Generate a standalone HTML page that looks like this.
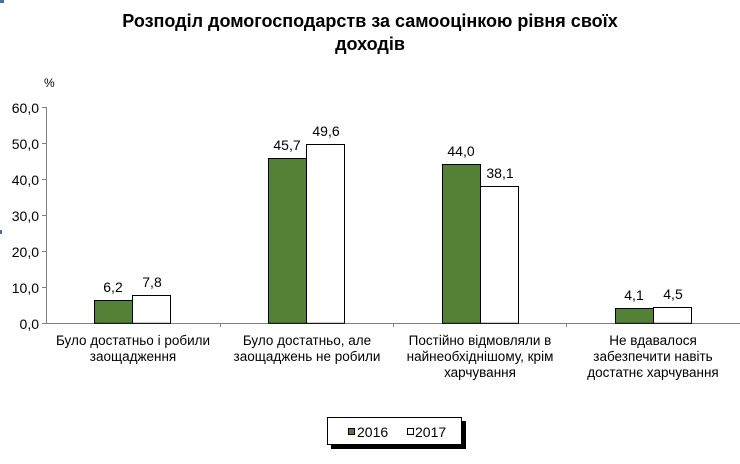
<!DOCTYPE html>
<html><head><meta charset="utf-8"><style>
body{margin:0;background:#fff;}
svg text{font-family:"Liberation Sans",Arial,sans-serif;fill:#000;}
</style></head><body>
<svg width="740" height="459" viewBox="0 0 740 459" xmlns="http://www.w3.org/2000/svg">
<rect x="0" y="0" width="740" height="459" fill="#fff"/>
<rect x="0" y="0" width="4" height="3" fill="#4a6fa5"/>
<rect x="0" y="230" width="2" height="4" fill="#4a6fa5"/>
<text x="370" y="27" text-anchor="middle" font-size="18" font-weight="bold">Розподіл домогосподарств за самооцінкою рівня своїх</text>
<text x="370" y="50" text-anchor="middle" font-size="18" font-weight="bold">доходів</text>
<text x="44" y="87" font-size="12">%</text>
<g font-size="14" text-anchor="end">
<text x="39" y="113">60,0</text><text x="39" y="149">50,0</text><text x="39" y="185">40,0</text>
<text x="39" y="221">30,0</text><text x="39" y="257">20,0</text><text x="39" y="293">10,0</text><text x="39" y="329">0,0</text>
</g>
<g stroke="#808080" stroke-width="1">
<line x1="46.5" y1="107" x2="46.5" y2="323"/>
<line x1="46" y1="323.5" x2="740" y2="323.5"/>
<line x1="42" y1="107.5" x2="46" y2="107.5"/><line x1="42" y1="143.5" x2="46" y2="143.5"/>
<line x1="42" y1="179.5" x2="46" y2="179.5"/><line x1="42" y1="215.5" x2="46" y2="215.5"/>
<line x1="42" y1="251.5" x2="46" y2="251.5"/><line x1="42" y1="287.5" x2="46" y2="287.5"/>
<line x1="42" y1="323.5" x2="46" y2="323.5"/>
<line x1="220.5" y1="323" x2="220.5" y2="327"/><line x1="393.5" y1="323" x2="393.5" y2="327"/>
<line x1="566.5" y1="323" x2="566.5" y2="327"/>
</g>
<g stroke="#000" stroke-width="1">
<rect x="94.5" y="300.5" width="38" height="22.8" fill="#538135"/>
<rect x="132.5" y="295.5" width="38" height="27.8" fill="#fff"/>
<rect x="268.5" y="158.5" width="38" height="164.8" fill="#538135"/>
<rect x="306.5" y="144.5" width="38" height="178.8" fill="#fff"/>
<rect x="442.5" y="164.5" width="38" height="158.8" fill="#538135"/>
<rect x="480.5" y="186.5" width="38" height="136.8" fill="#fff"/>
<rect x="615.5" y="308.5" width="38" height="14.8" fill="#538135"/>
<rect x="653.5" y="307.5" width="38" height="15.8" fill="#fff"/>
</g>
<g font-size="14" text-anchor="middle">
<text x="113" y="292">6,2</text><text x="152" y="287">7,8</text>
<text x="287" y="150">45,7</text><text x="326" y="136">49,6</text>
<text x="461" y="156">44,0</text><text x="500" y="178">38,1</text>
<text x="634" y="300">4,1</text><text x="673" y="299">4,5</text>
</g>
<g font-size="13.5" text-anchor="middle">
<text x="133" y="345">Було достатньо і робили</text><text x="133" y="361">заощадження</text>
<text x="307" y="345">Було достатньо, але</text><text x="307" y="361">заощаджень не  робили</text>
<text x="480" y="345">Постійно відмовляли в</text><text x="480" y="361">найнеобхіднішому, крім</text><text x="480" y="377">харчування</text>
<text x="653" y="345">Не вдавалося</text><text x="653" y="361">забезпечити навіть</text><text x="653" y="377">достатнє харчування</text>
</g>
<rect x="331" y="421" width="135" height="28" fill="#000"/>
<rect x="327.5" y="417.5" width="134" height="27" fill="#fff" stroke="#000"/>
<rect x="348.5" y="428.5" width="6" height="6" fill="#538135" stroke="#000"/>
<text x="357" y="437" font-size="14">2016</text>
<rect x="407.5" y="428.5" width="6" height="6" fill="#fff" stroke="#000"/>
<text x="415" y="437" font-size="14">2017</text>
</svg>
</body></html>
